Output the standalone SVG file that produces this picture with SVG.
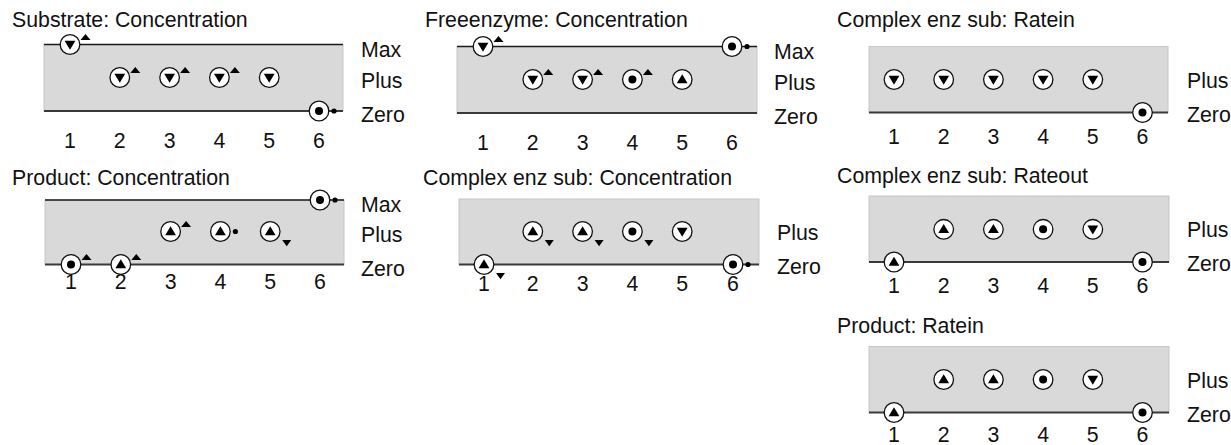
<svg xmlns="http://www.w3.org/2000/svg" width="1231" height="445" viewBox="0 0 1231 445">
  <style>
    text { font-family: "Liberation Sans", Arial, sans-serif; font-size: 21.3px; fill: #111; }
    .num { text-anchor: middle; }
    .band { fill: #d9d9d9; stroke: #c6c6c6; stroke-width: 1; }
    .maxline { stroke: #1a1a1a; stroke-width: 1.5; }
    .zeroline { stroke: #3a3a3a; stroke-width: 1.8; }
    .ring { fill: #fff; stroke: #111; stroke-width: 1.3; }
    .ink { fill: #000; }
  </style>
  <defs>
    <!-- qualitative magnitude markers: ring with direction glyph -->
    <g id="q-dec"><circle class="ring" r="9.8"/><polygon class="ink" points="-5.4,-3.8 5.4,-3.8 0,5.3"/></g>
    <g id="q-inc"><circle class="ring" r="9.8"/><polygon class="ink" points="-5.4,3.8 5.4,3.8 0,-5.3"/></g>
    <g id="q-std"><circle class="ring" r="9.8"/><circle class="ink" r="4"/></g>
    <!-- small derivative tags beside a marker -->
    <polygon id="d-inc" class="ink" points="10.5,-4.5 20.5,-4.5 15.5,-10.5"/>
    <polygon id="d-dec" class="ink" points="12,8.5 21,8.5 16.5,14.8"/>
    <circle id="d-std" class="ink" cx="15" cy="0" r="2.6"/>
  </defs>

  <!-- Substrate: Concentration -->
  <g id="substrate-concentration">
    <text x="12" y="26.5">Substrate: Concentration</text>
    <rect class="band" x="44" y="44.5" width="299" height="66.5"/>
    <line class="maxline" x1="44" y1="44.5" x2="343" y2="44.5"/>
    <line class="zeroline" x1="44" y1="111" x2="343" y2="111"/>
    <text x="361" y="56.5">Max</text>
    <text x="361" y="87.5">Plus</text>
    <text x="361" y="122">Zero</text>
    <use href="#q-dec" x="70" y="44.5"/><use href="#d-inc" x="70" y="44.5"/>
    <use href="#q-dec" x="119.8" y="77.5"/><use href="#d-inc" x="119.8" y="77.5"/>
    <use href="#q-dec" x="169.6" y="77.5"/><use href="#d-inc" x="169.6" y="77.5"/>
    <use href="#q-dec" x="219.4" y="77.5"/><use href="#d-inc" x="219.4" y="77.5"/>
    <use href="#q-dec" x="269.2" y="77.5"/>
    <use href="#q-std" x="319" y="111"/><use href="#d-std" x="319" y="111"/>
    <text class="num" x="70" y="147.5">1</text>
    <text class="num" x="119.8" y="147.5">2</text>
    <text class="num" x="169.6" y="147.5">3</text>
    <text class="num" x="219.4" y="147.5">4</text>
    <text class="num" x="269.2" y="147.5">5</text>
    <text class="num" x="319" y="147.5">6</text>
  </g>

  <!-- Freeenzyme: Concentration -->
  <g id="freeenzyme-concentration">
    <text x="425" y="26.5">Freeenzyme: Concentration</text>
    <rect class="band" x="457" y="46.5" width="300" height="66.5"/>
    <line class="maxline" x1="457" y1="46.5" x2="757" y2="46.5"/>
    <line class="zeroline" x1="457" y1="113" x2="757" y2="113"/>
    <text x="774" y="58.5">Max</text>
    <text x="774" y="89.5">Plus</text>
    <text x="774" y="124">Zero</text>
    <use href="#q-dec" x="483" y="46.5"/><use href="#d-inc" x="483" y="46.5"/>
    <use href="#q-dec" x="532.8" y="79.5"/><use href="#d-inc" x="532.8" y="79.5"/>
    <use href="#q-dec" x="582.6" y="79.5"/><use href="#d-inc" x="582.6" y="79.5"/>
    <use href="#q-std" x="632.4" y="79.5"/><use href="#d-inc" x="632.4" y="79.5"/>
    <use href="#q-inc" x="682.2" y="79.5"/>
    <use href="#q-std" x="732" y="46.5"/><use href="#d-std" x="732" y="46.5"/>
    <text class="num" x="483" y="149.5">1</text>
    <text class="num" x="532.8" y="149.5">2</text>
    <text class="num" x="582.6" y="149.5">3</text>
    <text class="num" x="632.4" y="149.5">4</text>
    <text class="num" x="682.2" y="149.5">5</text>
    <text class="num" x="732" y="149.5">6</text>
  </g>

  <!-- Complex enz sub: Ratein -->
  <g id="complex-ratein">
    <text x="837" y="26.5">Complex enz sub: Ratein</text>
    <rect class="band" x="869" y="46.5" width="299" height="66"/>
    <line class="zeroline" x1="869" y1="112.5" x2="1168" y2="112.5"/>
    <text x="1187" y="87.5">Plus</text>
    <text x="1187" y="121.5">Zero</text>
    <use href="#q-dec" x="894" y="79.5"/>
    <use href="#q-dec" x="943.7" y="79.5"/>
    <use href="#q-dec" x="993.4" y="79.5"/>
    <use href="#q-dec" x="1043.1" y="79.5"/>
    <use href="#q-dec" x="1092.8" y="79.5"/>
    <use href="#q-std" x="1142.5" y="112.5"/>
    <text class="num" x="894" y="143.5">1</text>
    <text class="num" x="943.7" y="143.5">2</text>
    <text class="num" x="993.4" y="143.5">3</text>
    <text class="num" x="1043.1" y="143.5">4</text>
    <text class="num" x="1092.8" y="143.5">5</text>
    <text class="num" x="1142.5" y="143.5">6</text>
  </g>

  <!-- Product: Concentration -->
  <g id="product-concentration">
    <text x="12" y="184.5">Product: Concentration</text>
    <rect class="band" x="45" y="200" width="299" height="64.5"/>
    <line class="maxline" x1="45" y1="200" x2="344" y2="200"/>
    <line class="zeroline" x1="45" y1="264.5" x2="344" y2="264.5"/>
    <text x="361" y="212">Max</text>
    <text x="361" y="241.5">Plus</text>
    <text x="361" y="275.5">Zero</text>
    <use href="#q-std" x="71" y="264.5"/><use href="#d-inc" x="71" y="264.5"/>
    <use href="#q-inc" x="120.8" y="264.5"/><use href="#d-inc" x="120.8" y="264.5"/>
    <use href="#q-inc" x="170.6" y="231.5"/><use href="#d-inc" x="170.6" y="231.5"/>
    <use href="#q-inc" x="220.4" y="231.5"/><use href="#d-std" x="220.4" y="231.5"/>
    <use href="#q-inc" x="270.2" y="231.5"/><use href="#d-dec" x="270.2" y="231.5"/>
    <use href="#q-std" x="320" y="200"/><use href="#d-std" x="320" y="200"/>
    <text class="num" x="71" y="289">1</text>
    <text class="num" x="120.8" y="289">2</text>
    <text class="num" x="170.6" y="289">3</text>
    <text class="num" x="220.4" y="289">4</text>
    <text class="num" x="270.2" y="289">5</text>
    <text class="num" x="320" y="289">6</text>
  </g>

  <!-- Complex enz sub: Concentration -->
  <g id="complex-concentration">
    <text x="423" y="184.5">Complex enz sub: Concentration</text>
    <rect class="band" x="459" y="199" width="300" height="65.5"/>
    <line class="zeroline" x1="459" y1="264.5" x2="759" y2="264.5"/>
    <text x="777" y="240">Plus</text>
    <text x="777" y="274">Zero</text>
    <use href="#q-inc" x="484" y="264.5"/><use href="#d-dec" x="484" y="264.5"/>
    <use href="#q-inc" x="532.8" y="231.5"/><use href="#d-dec" x="532.8" y="231.5"/>
    <use href="#q-inc" x="582.6" y="231.5"/><use href="#d-dec" x="582.6" y="231.5"/>
    <use href="#q-std" x="632.4" y="231.5"/><use href="#d-dec" x="632.4" y="231.5"/>
    <use href="#q-dec" x="682.2" y="231.5"/>
    <use href="#q-std" x="733" y="264.5"/><use href="#d-std" x="733" y="264.5"/>
    <text class="num" x="484" y="290.5">1</text>
    <text class="num" x="532.8" y="290.5">2</text>
    <text class="num" x="582.6" y="290.5">3</text>
    <text class="num" x="632.4" y="290.5">4</text>
    <text class="num" x="682.2" y="290.5">5</text>
    <text class="num" x="733" y="290.5">6</text>
  </g>

  <!-- Complex enz sub: Rateout -->
  <g id="complex-rateout">
    <text x="837" y="183">Complex enz sub: Rateout</text>
    <rect class="band" x="869" y="196" width="300" height="66"/>
    <line class="zeroline" x1="869" y1="262" x2="1169" y2="262"/>
    <text x="1187" y="237">Plus</text>
    <text x="1187" y="271">Zero</text>
    <use href="#q-inc" x="894" y="262"/>
    <use href="#q-inc" x="943.7" y="229.3"/>
    <use href="#q-inc" x="993.4" y="229.3"/>
    <use href="#q-std" x="1043.1" y="229.3"/>
    <use href="#q-dec" x="1092.8" y="229.3"/>
    <use href="#q-std" x="1142.5" y="262"/>
    <text class="num" x="894" y="292.5">1</text>
    <text class="num" x="943.7" y="292.5">2</text>
    <text class="num" x="993.4" y="292.5">3</text>
    <text class="num" x="1043.1" y="292.5">4</text>
    <text class="num" x="1092.8" y="292.5">5</text>
    <text class="num" x="1142.5" y="292.5">6</text>
  </g>

  <!-- Product: Ratein -->
  <g id="product-ratein">
    <text x="837" y="332.5">Product: Ratein</text>
    <rect class="band" x="869" y="346.5" width="300" height="66"/>
    <line class="zeroline" x1="869" y1="412.5" x2="1169" y2="412.5"/>
    <text x="1187" y="387.5">Plus</text>
    <text x="1187" y="421.5">Zero</text>
    <use href="#q-inc" x="894" y="412.5"/>
    <use href="#q-inc" x="943.7" y="379.5"/>
    <use href="#q-inc" x="993.4" y="379.5"/>
    <use href="#q-std" x="1043.1" y="379.5"/>
    <use href="#q-dec" x="1092.8" y="379.5"/>
    <use href="#q-std" x="1142.5" y="412.5"/>
    <text class="num" x="894" y="441.5">1</text>
    <text class="num" x="943.7" y="441.5">2</text>
    <text class="num" x="993.4" y="441.5">3</text>
    <text class="num" x="1043.1" y="441.5">4</text>
    <text class="num" x="1092.8" y="441.5">5</text>
    <text class="num" x="1142.5" y="441.5">6</text>
  </g>
</svg>
